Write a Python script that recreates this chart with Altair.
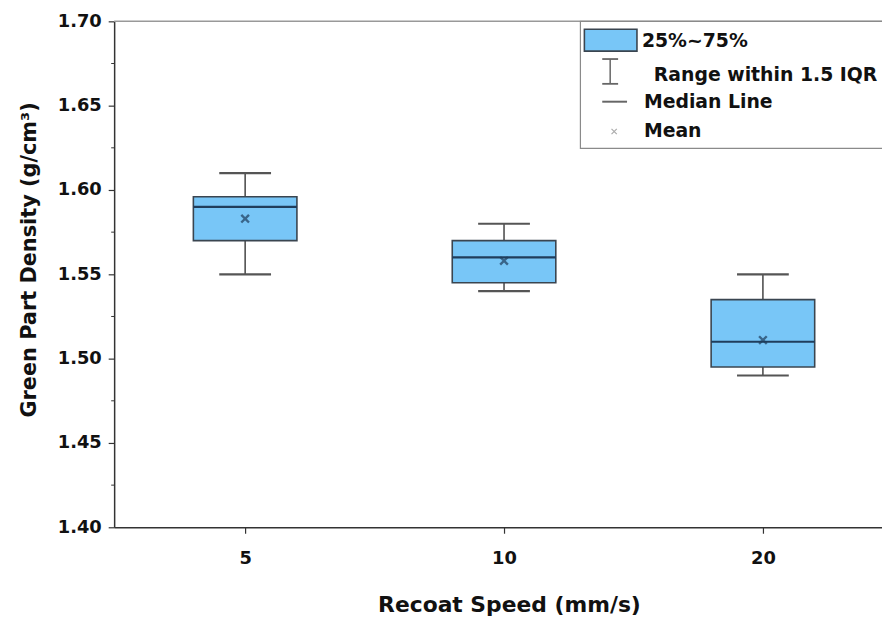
import altair as alt
import pandas as pd

# ---- data ----
speeds = ["5", "10", "20"]
whisker_low = [1.550, 1.540, 1.490]
q1 = [1.570, 1.545, 1.495]
median = [1.590, 1.560, 1.510]
q3 = [1.596, 1.570, 1.535]
whisker_high = [1.610, 1.580, 1.550]
means = [1.583, 1.558, 1.511]
y_ticks = [1.40, 1.45, 1.50, 1.55, 1.60, 1.65, 1.70]
y_minor = [1.425, 1.475, 1.525, 1.575, 1.625, 1.675]
legend_labels = ["25%~75%", "Range within 1.5 IQR", "Median Line", "Mean"]

df = pd.DataFrame({
    "idx": list(range(len(speeds))),
    "speed": speeds,
    "lo": whisker_low,
    "q1": q1,
    "med": median,
    "q3": q3,
    "hi": whisker_high,
    "mean": means,
})
minor_df = pd.DataFrame({"v": y_minor})

W, H = 774, 510
FONT = "DejaVu Sans"
TXT = "#111111"
BOX_FILL = "#78C6F7"
BOX_STROKE = "#3a4550"
MED = "#1f3d5c"

xscale = alt.Scale(domain=[-0.506, 2.46], nice=False, zero=False)
yscale = alt.Scale(domain=[1.40, 1.70], nice=False, zero=False)

label_expr = "[" + ",".join(f"'{s}'" for s in speeds) + "][datum.value]"

xaxis = alt.Axis(
    values=list(range(len(speeds))), labelExpr=label_expr,
    title="Recoat Speed (mm/s)", grid=False,
    domainColor="#333", domainWidth=1.5, tickColor="#333", tickSize=6, tickWidth=1.2,
    labelFont=FONT, labelFontSize=18, labelFontWeight="bold", labelColor=TXT,
    labelPadding=17, labelBaseline="top",
    titleFont=FONT, titleFontSize=22, titleFontWeight="bold", titleColor=TXT,
    titleX=398, titleY=78, titleBaseline="middle", titleAlign="center",
)
yaxis = alt.Axis(
    values=y_ticks, format=".2f", title="Green Part Density (g/cm³)", grid=False,
    domainColor="#333", domainWidth=1.5, tickColor="#333", tickSize=6, tickWidth=1.2,
    labelFont=FONT, labelFontSize=18, labelFontWeight="bold", labelColor=TXT,
    labelPadding=7,
    titleFont=FONT, titleFontSize=21, titleFontWeight="bold", titleColor=TXT,
    titleX=-85, titleY=240, titleAngle=270, titleBaseline="middle", titleAlign="center",
)

base = alt.Chart(df)

def X(f):
    return alt.X(f, scale=xscale, axis=xaxis)

def Y(f):
    return alt.Y(f, scale=yscale, axis=yaxis)

calc = base.transform_calculate(
    bx0="datum.idx - 0.2", bx1="datum.idx + 0.2",
    cx0="datum.idx - 0.1", cx1="datum.idx + 0.1",
)

whisk_up = base.mark_rule(color="#444", strokeWidth=1.5).encode(
    x=X("idx:Q"), y=Y("q3:Q"), y2="hi:Q")
whisk_dn = base.mark_rule(color="#444", strokeWidth=1.5).encode(
    x=X("idx:Q"), y=Y("lo:Q"), y2="q1:Q")
cap_hi = calc.mark_rule(color="#555", strokeWidth=2.2).encode(
    x=X("cx0:Q"), x2="cx1:Q", y=Y("hi:Q"))
cap_lo = calc.mark_rule(color="#555", strokeWidth=2.2).encode(
    x=X("cx0:Q"), x2="cx1:Q", y=Y("lo:Q"))
box = calc.mark_rect(fill=BOX_FILL, stroke=BOX_STROKE, strokeWidth=1.6).encode(
    x=X("bx0:Q"), x2="bx1:Q", y=Y("q1:Q"), y2="q3:Q")
med_line = calc.mark_rule(color=MED, strokeWidth=2.2).encode(
    x=X("bx0:Q"), x2="bx1:Q", y=Y("med:Q"))
mean_pt = base.mark_point(
    shape="M-1,-1L1,1M1,-1L-1,1", filled=False, strokeWidth=2.4, size=60, color=MED
).encode(x=X("idx:Q"), y=Y("mean:Q"))

minor = alt.Chart(minor_df).mark_rule(color="#333", strokeWidth=1).encode(
    x=alt.value(-3), x2=alt.value(0), y=Y("v:Q"))

one = pd.DataFrame({"k": [0]})
top_border = alt.Chart(one).mark_rule(color="#999", strokeWidth=1.5).encode(
    x=alt.value(0), x2=alt.value(W), y=alt.value(0))

# legend (drawn by hand to match the reference's boxed key)
leg_box = alt.Chart(one).mark_rect(fill="white", stroke="#8a8a8a", strokeWidth=1.2).encode(
    x=alt.value(470), x2=alt.value(W + 30), y=alt.value(0), y2=alt.value(128))
leg_swatch = alt.Chart(one).mark_rect(fill=BOX_FILL, stroke=BOX_STROKE, strokeWidth=1.6).encode(
    x=alt.value(474), x2=alt.value(527), y=alt.value(8), y2=alt.value(30))
leg_wv = alt.Chart(one).mark_rule(color="#666", strokeWidth=1.5).encode(
    x=alt.value(500), y=alt.value(38), y2=alt.value(63))
leg_wt = alt.Chart(one).mark_rule(color="#666", strokeWidth=1.8).encode(
    x=alt.value(492), x2=alt.value(508), y=alt.value(38))
leg_wb = alt.Chart(one).mark_rule(color="#666", strokeWidth=1.8).encode(
    x=alt.value(492), x2=alt.value(508), y=alt.value(63))
leg_med = alt.Chart(one).mark_rule(color="#666", strokeWidth=2).encode(
    x=alt.value(492), x2=alt.value(517), y=alt.value(81))
leg_mean = alt.Chart(one).mark_point(
    shape="M-1,-1L1,1M1,-1L-1,1", filled=False, strokeWidth=1.2, size=28, color="#888"
).encode(x=alt.value(504), y=alt.value(111))

leg_text_y = [20, 54, 81, 111]
leg_text_x = [532, 544, 534, 534]
leg_texts = [
    alt.Chart(one).mark_text(
        text=lab, font=FONT, fontSize=19, fontWeight="bold", color=TXT,
        align="left", baseline="middle",
    ).encode(x=alt.value(tx), y=alt.value(ty))
    for lab, tx, ty in zip(legend_labels, leg_text_x, leg_text_y)
]

chart = alt.layer(
    top_border, minor, whisk_up, whisk_dn, cap_hi, cap_lo, box, med_line, mean_pt,
    leg_box, leg_swatch, leg_wv, leg_wt, leg_wb, leg_med, leg_mean, *leg_texts,
).properties(
    width=W, height=H,
    padding={"left": 107, "top": 11, "right": 0, "bottom": 90},
    autosize=alt.AutoSizeParams(type="none"),
    background="white",
).configure_view(stroke=None)

chart.save("out.html", embed_options={"renderer": "svg", "actions": False})
